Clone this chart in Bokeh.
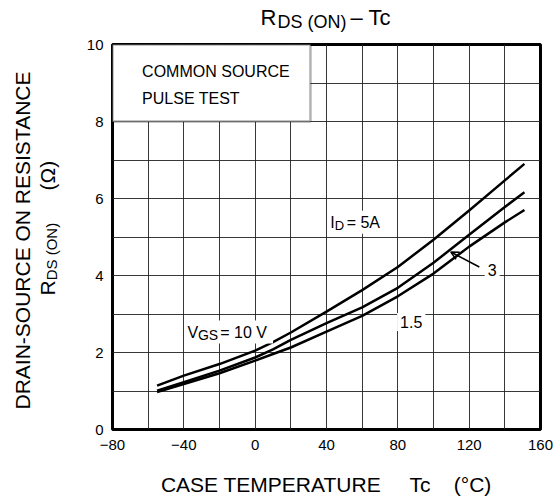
import math
from bokeh.plotting import figure
from bokeh.layouts import column, row
from bokeh.models import Label, BoxAnnotation, Arrow, OpenHead, FixedTicker, ColumnDataSource
from bokeh.embed import file_html
from bokeh.resources import INLINE

# ---- data ----
temps = [-55, -40, -20, 0, 10, 20, 40, 60, 80, 100, 120, 140, 151]
r_5a = [1.14, 1.40, 1.70, 2.05, 2.27, 2.52, 3.06, 3.62, 4.22, 4.93, 5.69, 6.47, 6.90]
r_3a = [1.01, 1.23, 1.53, 1.87, 2.08, 2.33, 2.76, 3.17, 3.68, 4.33, 5.06, 5.78, 6.16]
r_15a = [0.97, 1.18, 1.46, 1.79, 1.96, 2.13, 2.54, 2.95, 3.46, 4.05, 4.75, 5.38, 5.70]

x_ticks = [-80, -40, 0, 40, 80, 120, 160]
x_tick_labels = {-80: "\u221280", -40: "\u221240"}
y_ticks = [0, 2, 4, 6, 8, 10]
x_grid = [-80, -60, -40, -20, 0, 20, 40, 60, 80, 100, 120, 140, 160]
y_grid = [0, 1, 2, 3, 4, 5, 6, 7, 8, 9, 10]

FONT = "Liberation Sans"
W, H = 554, 499
TOP_H = 36          # title strip
LEFT_W = 80         # y-title strip
MAIN_W, MAIN_H = W - LEFT_W, H - TOP_H
BOTTOM_BORDER = 70
FRAME_BOTTOM = TOP_H + MAIN_H - BOTTOM_BORDER   # page y of the frame bottom
TITLE_SHIFT = 8     # observed vertical offset of the title strip's label origin


def blank(w, h):
    f = figure(width=w, height=h, x_range=(0, 1), y_range=(0, 1),
               x_axis_type=None, y_axis_type=None, output_backend="svg",
               toolbar_location=None, min_border=0, outline_line_color=None,
               background_fill_color="white", border_fill_color="white")
    f.grid.visible = False
    return f


# ---------------- main plot ----------------
p = figure(width=MAIN_W, height=MAIN_H, x_range=(-80, 160), y_range=(0, 10),
           output_backend="svg", toolbar_location=None, title=None,
           min_border_left=32, min_border_right=14, min_border_top=8,
           min_border_bottom=BOTTOM_BORDER, background_fill_color="white",
           border_fill_color="white")

p.outline_line_color = "black"
p.outline_line_width = 3

for ax in (p.xaxis, p.yaxis):
    ax.axis_line_color = None
    ax.major_tick_line_color = None
    ax.minor_tick_line_color = None
    ax.major_label_text_font = FONT
    ax.major_label_text_font_size = "15px"
    ax.major_label_text_color = "black"

p.xaxis.ticker = FixedTicker(ticks=x_ticks)
p.xaxis.major_label_overrides = x_tick_labels
p.xaxis.major_label_standoff = 4
p.yaxis.ticker = FixedTicker(ticks=y_ticks)
p.yaxis.major_label_standoff = 3

p.xaxis.axis_label = "CASE TEMPERATURE\u00a0\u00a0\u00a0\u00a0 Tc\u00a0\u00a0\u00a0 (\u00b0C)"
p.xaxis.axis_label_text_font = FONT
p.xaxis.axis_label_text_font_size = "21px"
p.xaxis.axis_label_text_font_style = "normal"
p.xaxis.axis_label_text_color = "black"
p.xaxis.axis_label_standoff = 20

p.xgrid.ticker = FixedTicker(ticks=x_grid)
p.ygrid.ticker = FixedTicker(ticks=y_grid)
for g in (p.xgrid, p.ygrid):
    g.grid_line_color = "#222222"
    g.grid_line_width = 1
    g.grid_line_alpha = 0.9

src = ColumnDataSource(dict(t=temps, a=r_5a, b=r_3a, c=r_15a))
for col in ("a", "b", "c"):
    p.line("t", col, source=src, line_color="black", line_width=2.5, line_join="round")

p.add_layout(BoxAnnotation(left=-80, right=31, bottom=8, top=10,
                           fill_color="white", fill_alpha=1.0,
                           line_color="black", line_width=2.5))


def dlabel(x, y, text, size=16, align="left", baseline="alphabetic", bg=False,
           color="black", pad=3):
    kw = dict(x=x, y=y, text=text, text_font=FONT, text_font_size=f"{size}px",
              text_color=color, text_align=align, text_baseline=baseline)
    if bg:
        kw.update(background_fill_color="white", background_fill_alpha=1.0, padding=pad)
    lb = Label(**kw)
    p.add_layout(lb)
    return lb


dlabel(-63.4, 9.3, "COMMON SOURCE", baseline="middle")
dlabel(-63.4, 8.6, "PULSE TEST", baseline="middle")

# I_D = 5A : white backing first, then the pieces
dlabel(42.1, 5.38, "ID  = 5A", bg=True, color="white")
dlabel(42.1, 5.38, "I")
dlabel(44.6, 5.30, "D", size=13)
dlabel(51.3, 5.38, " = 5A")

# V_GS = 10 V
dlabel(-38.0, 2.53, "VGS = 10 V", size=15, bg=True, color="white")
dlabel(-38.0, 2.53, "V")
dlabel(-32.1, 2.45, "GS", size=14)
dlabel(-19.6, 2.53, " = 10 V")

dlabel(132.9, 4.13, "3", align="center", baseline="middle", bg=True)
dlabel(87.5, 2.79, "1.5", align="center", baseline="middle", bg=True)

p.add_layout(Arrow(x_start=125.7, y_start=4.22, x_end=109.7, y_end=4.61,
                   line_color="black", line_width=1.5,
                   end=OpenHead(size=8, line_width=1.5, line_color="black")))

# ---------------- title strip ----------------
t = blank(W, TOP_H)


def tlabel(xi, yi, text, size):
    t.add_layout(Label(x=xi, y=TOP_H - (yi - TITLE_SHIFT), x_units="screen", y_units="screen",
                       text=text, text_font=FONT, text_font_size=f"{size}px",
                       text_color="black", text_align="left", text_baseline="alphabetic"))


tlabel(260, 25, "R", 22)
tlabel(277, 29, "DS (ON)", 18)
tlabel(350, 25, "\u2013 Tc", 22)

# ---------------- y-title strip (frame aligned with the main frame) ----------------
lf = blank(LEFT_W, MAIN_H)


def llabel(xi, yi, text, size, align="left"):
    lf.add_layout(Label(x=xi, y=FRAME_BOTTOM - yi, x_units="screen", y_units="screen",
                        text=text, text_font=FONT, text_font_size=f"{size}px",
                        text_color="black", text_align=align, text_baseline="middle",
                        angle=math.pi / 2))


llabel(22, 240, "DRAIN-SOURCE ON RESISTANCE", 21, align="center")
llabel(47, 295, "R", 21)
llabel(51, 279.8, "DS (ON)", 15)
llabel(47, 190, "(\u03a9)", 21)

layout = column(t, row(lf, p))

with open("out.html", "w") as f:
    f.write(file_html(layout, INLINE))
